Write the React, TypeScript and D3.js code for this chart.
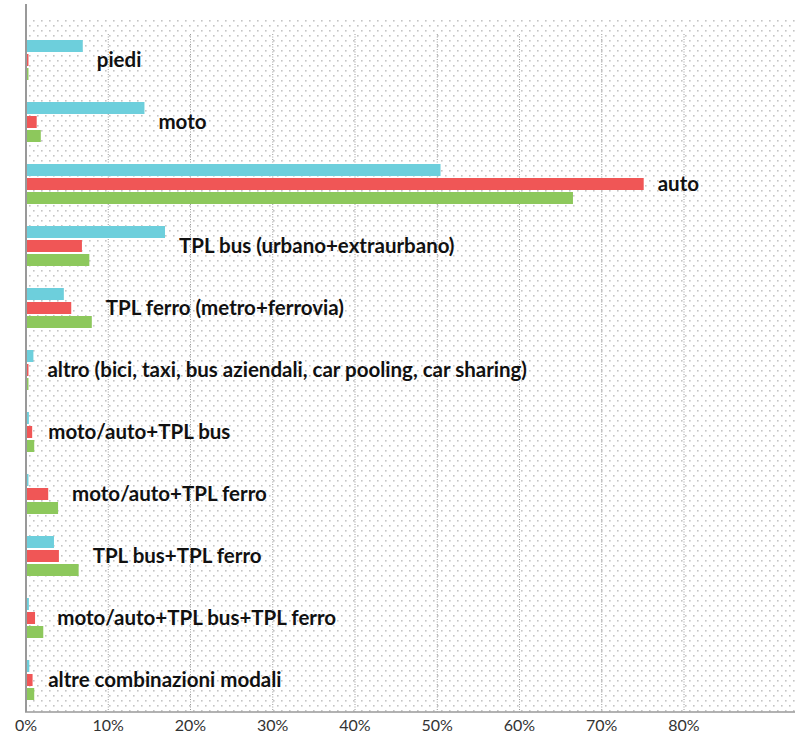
import React from "react";
import * as d3 from "d3";

const categories = [
  "piedi",
  "moto",
  "auto",
  "TPL bus (urbano+extraurbano)",
  "TPL ferro (metro+ferrovia)",
  "altro (bici, taxi, bus aziendali, car pooling, car sharing)",
  "moto/auto+TPL bus",
  "moto/auto+TPL ferro",
  "TPL bus+TPL ferro",
  "moto/auto+TPL bus+TPL ferro",
  "altre combinazioni modali",
];
const seriesCyan = [6.9, 14.4, 50.4, 16.9, 4.6, 0.9, 0.35, 0.3, 3.4, 0.35, 0.4];
const seriesRed = [0.3, 1.3, 75.1, 6.8, 5.5, 0.3, 0.75, 2.7, 4.0, 1.1, 0.8];
const seriesGreen = [0.3, 1.8, 66.5, 7.7, 8.0, 0.3, 1.0, 3.9, 6.4, 2.1, 1.0];
const tickValues = [0, 10, 20, 30, 40, 50, 60, 70, 80];
const seriesColors = ["#6dcfdc", "#f05656", "#8dc85c"];

export default function App() {
  const W = 795;
  const H = 738;
  const left = 26;
  const plotTop = 19;
  const bottom = 712;
  const x = d3.scaleLinear().domain([0, 80]).range([left, 684]);
  const y = d3.scaleBand<string>().domain(categories).range([29, 711]);
  const series = [seriesCyan, seriesRed, seriesGreen];
  const barH = 12;
  const gap = 2;
  const groupH = barH * 3 + gap * 2;
  const font = "'Lato', 'Open Sans', sans-serif";

  return (
    <svg
      width={W}
      height={H}
      style={{ position: "absolute", left: 0, top: 0, background: "#fff" }}
    >
      <defs>
        <pattern id="dots" x={0} y={plotTop} width={8} height={10} patternUnits="userSpaceOnUse">
          <rect x={1} y={1} width={1.6} height={1.6} fill="#c4c4c4" />
          <rect x={5} y={6} width={1.6} height={1.6} fill="#c4c4c4" />
        </pattern>
      </defs>
      <rect x={left} y={plotTop} width={W - left} height={bottom - plotTop} fill="url(#dots)" />
      {tickValues.slice(1).map((t) => (
        <line
          key={t}
          x1={x(t)}
          x2={x(t)}
          y1={plotTop + 15}
          y2={bottom}
          stroke="#9a9a9a"
          strokeWidth={1}
          strokeDasharray="1,1.5"
        />
      ))}
      {categories.map((c, i) => {
        const y0 = (y(c) as number) + y.bandwidth() / 2 - groupH / 2;
        const maxV = Math.max(seriesCyan[i], seriesRed[i], seriesGreen[i]);
        return (
          <g key={c}>
            {series.map((s, k) => (
              <rect
                key={k}
                x={x(0)}
                y={y0 + k * (barH + gap)}
                width={x(s[i]) - x(0)}
                height={barH}
                fill={seriesColors[k]}
              />
            ))}
            <text
              x={x(maxV) + 14}
              y={y0 + groupH / 2 + 7}
              fontFamily={font}
              fontWeight={700}
              fontSize={20.5}
              fill="#111"
            >
              {c}
            </text>
          </g>
        );
      })}
      <line x1={left} x2={left} y1={4} y2={bottom} stroke="#999" strokeWidth={2} />
      <line x1={left - 1} x2={W} y1={bottom} y2={bottom} stroke="#999" strokeWidth={1.5} />
      {tickValues.map((t) => (
        <text
          key={"t" + t}
          x={x(t)}
          y={731}
          textAnchor="middle"
          fontFamily={font}
          fontSize={16}
          fill="#333"
        >
          {t + "%"}
        </text>
      ))}
    </svg>
  );
}
